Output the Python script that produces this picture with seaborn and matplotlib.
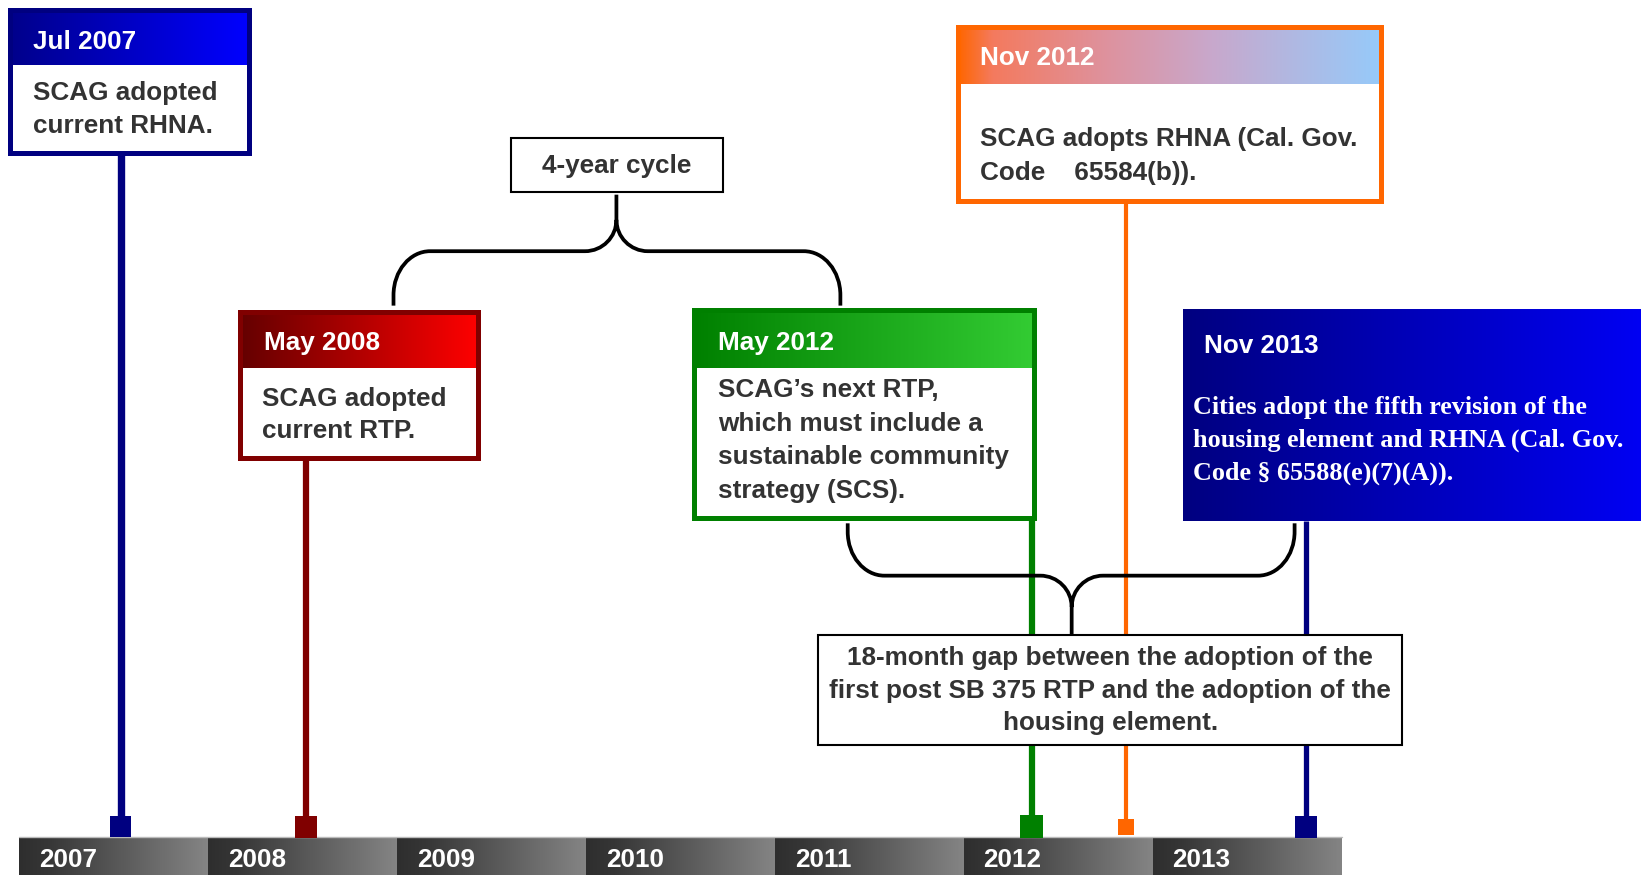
import numpy as np
import pandas as pd
import matplotlib
matplotlib.use("Agg")
import matplotlib.pyplot as plt
import seaborn as sns
from matplotlib.colors import LinearSegmentedColormap
from matplotlib.patches import Rectangle, PathPatch
from matplotlib.path import Path

# --- data ---
years = [2007, 2008, 2009, 2010, 2011, 2012, 2013]
event_labels = ["Jul 2007", "May 2008", "May 2012", "Nov 2012", "Nov 2013"]
event_dates = [2007.54, 2008.52, 2012.36, 2012.86, 2013.81]
event_texts = [
    ["SCAG adopted", "current RHNA."],
    ["SCAG adopted", "current RTP."],
    ["SCAG\u2019s next RTP,", "which must include a", "sustainable community", "strategy (SCS)."],
    ["SCAG adopts RHNA (Cal. Gov.", "Code    65584(b))."],
    ["Cities adopt the fifth revision of the", "housing element and RHNA (Cal. Gov.",
     "Code \u00a7 65588(e)(7)(A))."],
]
cycle_label = ["4-year cycle"]
gap_label = ["18-month gap between the adoption of the",
             "first post SB 375 RTP and the adoption of the",
             "housing element."]

# --- style ---
sns.set_theme(style="white")
plt.rcParams["font.family"] = ["Liberation Sans", "DejaVu Sans"]
FS = 18.8
TXT = "#333333"

colors = ["#000080", "#800000", "#008000", "#FF6600", "#000080"]
head_grad = [
    ["#00008B", "#0000FF"],
    ["#640000", "#FF0000"],
    ["#008000", "#33CC33"],
    [(0, "#FF6600"), (0.08, "#F47A5E"), (0.35, "#DE929E"), (0.6, "#C8A8CC"), (1, "#96CAFA")],
    ["#000080", "#0000F5"],
]
# layout in design pixels (1568 x 836 canvas)
boxes = [(10, 10, 238, 146), (229, 298, 457, 438), (663, 296, 988, 495),
         (915, 26, 1320, 192), (1130, 296, 1575, 498)]
head_bottom = [62, 352, 352, 80, None]
head_xy = [(32, 40), (252, 328), (686, 328), (936, 55), (1150, 331)]
body_xy = [(32, 89), (250, 381), (686, 373), (936, 133), (1140, 389)]
body_step = [31, 31, 32, 32, 31.5]
stem_w = [5.3, 4.5, 4.5, 3.0, 3.8]
sq_size = [230, 250, 270, 130, 240]

YEAR_PX = 180.57


def xp(p):
    return 2007 + (p - 18) / YEAR_PX


fig = plt.figure(figsize=(16.41, 8.75), dpi=100)
ax = fig.add_axes([0, 0, 1, 1])


def gradient(x0, x1, y0, y1, stops, z):
    cmap = LinearSegmentedColormap.from_list("g", stops)
    ax.imshow(np.linspace(0, 1, 256)[None, :], cmap=cmap, aspect="auto",
              extent=(xp(x0), xp(x1), y1, y0), zorder=z, interpolation="bilinear")


# year bar
for yr in years:
    x0 = 18 + (yr - 2007) * YEAR_PX
    gradient(x0, x0 + YEAR_PX, 800, 840,
             [(0, "#2e2e2e"), (0.15, "#363636"), (1, "#848484")], 1)
    ax.text(yr + 19 / YEAR_PX, 822, str(yr), color="white", fontsize=FS,
            fontweight="bold", ha="left", va="center", zorder=2)
ax.plot([xp(18), xp(1282)], [800, 800], color="#bbbbbb", lw=1, zorder=2)

# stems and squares
ev = pd.DataFrame({"label": event_labels, "date": event_dates})
ev["y"] = 790
for i, d in enumerate(event_dates):
    ax.vlines(d, boxes[i][3], 790, color=colors[i], lw=stem_w[i], zorder=1.5)
sns.scatterplot(data=ev, x="date", y="y", hue="label", palette=colors,
                size="label", sizes=dict(zip(event_labels, sq_size)),
                marker="s", linewidth=0, legend=False, ax=ax, zorder=2.5)

# event boxes
for i in range(len(event_labels)):
    x0, y0, x1, y1 = boxes[i]
    white = i != 4
    hb = head_bottom[i] if head_bottom[i] else y1
    gradient(x0, x1, y0, hb, head_grad[i], 4)
    if white:
        ax.add_patch(Rectangle((xp(x0), hb), xp(x1) - xp(x0), y1 - hb,
                               facecolor="white", edgecolor="none", zorder=4))
        ax.add_patch(Rectangle((xp(x0), y0), xp(x1) - xp(x0), y1 - y0,
                               facecolor="none", edgecolor=colors[i], lw=3.6, zorder=5))
    hx, hy = head_xy[i]
    ax.text(xp(hx), hy, event_labels[i], color="white", fontsize=FS,
            fontweight="bold", ha="left", va="center", zorder=6)
    bx, by = body_xy[i]
    for j, line in enumerate(event_texts[i]):
        if white:
            ax.text(xp(bx), by + j * body_step[i], line, color=TXT, fontsize=FS,
                    fontweight="bold", ha="left", va="center", zorder=6)
        else:
            ax.text(xp(bx), by + j * body_step[i], line, color="white", fontsize=FS,
                    fontweight="bold", ha="left", va="center", zorder=6,
                    family=["Liberation Serif", "DejaVu Serif"])


def brace(xl, xr, xm, ye, yh, ytip, rx=35, ry=42, tx=30, ty=30):
    d = 1 if ytip > yh else -1
    k = 0.552
    v = [(xl, ye), (xl, yh - d * ry),
         (xl, yh - d * ry * (1 - k)), (xl + rx * (1 - k), yh), (xl + rx, yh),
         (xm - tx, yh),
         (xm - tx * (1 - k), yh), (xm, yh + d * ty * (1 - k)), (xm, yh + d * ty),
         (xm, ytip),
         (xm, yh + d * ty),
         (xm, yh + d * ty * (1 - k)), (xm + tx * (1 - k), yh), (xm + tx, yh),
         (xr - rx, yh),
         (xr - rx * (1 - k), yh), (xr, yh - d * ry * (1 - k)), (xr, yh - d * ry),
         (xr, ye)]
    c = [Path.MOVETO, Path.LINETO, Path.CURVE4, Path.CURVE4, Path.CURVE4,
         Path.LINETO, Path.CURVE4, Path.CURVE4, Path.CURVE4, Path.LINETO,
         Path.MOVETO, Path.CURVE4, Path.CURVE4, Path.CURVE4, Path.LINETO,
         Path.CURVE4, Path.CURVE4, Path.CURVE4, Path.LINETO]
    v = [(xp(a), b) for a, b in v]
    ax.add_patch(PathPatch(Path(v, c), facecolor="none", edgecolor="black",
                           lw=2.7, capstyle="butt", joinstyle="round", zorder=3))


brace(376, 803, 589, 292, 240, 186)
brace(810, 1237, 1024, 500, 550, 606)

# label boxes
ax.add_patch(Rectangle((xp(488), 132), xp(691) - xp(488), 51, facecolor="white",
                       edgecolor="black", lw=1.5, zorder=7))
ax.text(xp(589.5), 159, cycle_label[0], color=TXT, fontsize=FS, fontweight="bold",
        ha="center", va="center", zorder=8)
ax.add_patch(Rectangle((xp(782), 607), xp(1340) - xp(782), 105, facecolor="white",
                       edgecolor="black", lw=1.5, zorder=7))
for j, line in enumerate(gap_label):
    ax.text(xp(1061), 629 + j * 31, line, color=TXT, fontsize=FS, fontweight="bold",
            ha="center", va="center", zorder=8)

ax.set_xlim(xp(0), xp(1568))
ax.set_ylim(836, 0)
ax.axis("off")
fig.savefig("out.png", dpi=100, facecolor="white")
